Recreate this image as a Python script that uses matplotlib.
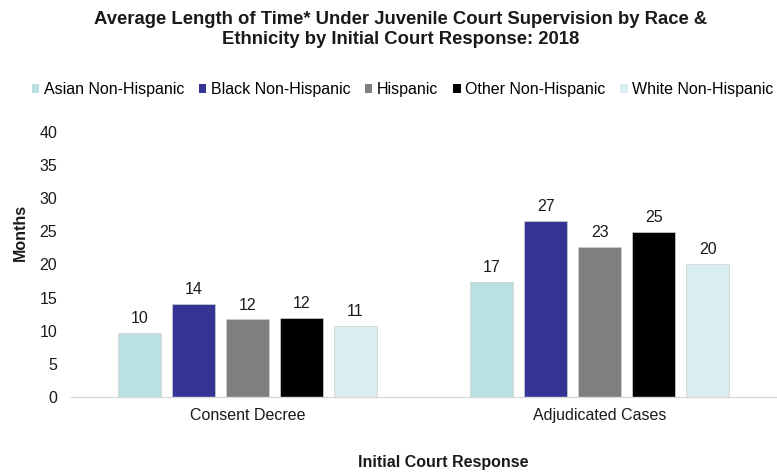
import matplotlib
matplotlib.use("Agg")
import matplotlib.pyplot as plt
from matplotlib.patches import Patch
import numpy as np

plt.rcParams['font.family'] = ['Liberation Sans', 'DejaVu Sans']

# Data: average months under supervision
categories = ["Consent Decree", "Adjudicated Cases"]
groups = ["Asian Non-Hispanic", "Black Non-Hispanic", "Hispanic",
          "Other Non-Hispanic", "White Non-Hispanic"]
asian = [9.7, 17.4]
black = [14.0, 26.6]
hispanic = [11.7, 22.7]
other = [12.0, 24.9]
white = [10.7, 20.1]
series = [asian, black, hispanic, other, white]
colors = ["#BAE0E3", "#343494", "#7F7F7F", "#000000", "#DAEDF0"]
y_ticks = [0, 5, 10, 15, 20, 25, 30, 35, 40]

W, H = 777, 472
fig = plt.figure(figsize=(W / 100, H / 100), dpi=100)
ax = fig.add_axes([71 / W, (H - 397) / H, (776 - 71) / W, (397 - 132) / H])

x = np.arange(len(categories))
bar_w = 0.122
pitch = 0.153
for i, (vals, col) in enumerate(zip(series, colors)):
    pos = x + (i - 2) * pitch
    bars = ax.bar(pos, vals, width=bar_w, color=col, edgecolor="#D0D0D0",
                  linewidth=0.5, zorder=2)
    for b, v in zip(bars, vals):
        ax.annotate(f"{v:.0f}", (b.get_x() + b.get_width() / 2, v),
                    xytext=(0, 5), textcoords="offset points",
                    ha="center", va="bottom", fontsize=11.5, color="#1a1a1a")

ax.set_xlim(-0.5, 1.5)
ax.set_ylim(0, 40)
ax.set_yticks(y_ticks)
ax.set_xticks(x)
ax.set_xticklabels(categories)
ax.tick_params(axis="y", length=0, pad=10, labelsize=11.5, labelcolor="#1a1a1a")
ax.tick_params(axis="x", length=0, pad=8, labelsize=11.5, labelcolor="#1a1a1a")
for s in ["top", "right", "left"]:
    ax.spines[s].set_visible(False)
ax.spines["bottom"].set_color("#D9D9D9")
ax.spines["bottom"].set_linewidth(1.0)

fig.text(401 / W, 1 - 29.5 / H,
         "Average Length of Time* Under Juvenile Court Supervision by Race &\n"
         "Ethnicity by Initial Court Response: 2018",
         ha="center", va="center", fontsize=13.3, fontweight="bold",
         linespacing=1.28, color="#1a1a1a")

fig.text(20 / W, 1 - 232 / H, "Months", rotation=90, ha="center", va="center",
         fontsize=11.5, fontweight="bold", color="#1a1a1a")
fig.text(443 / W, 1 - 462 / H, "Initial Court Response", ha="center",
         va="center", fontsize=11.5, fontweight="bold", color="#1a1a1a")

handles = [Patch(facecolor=c, edgecolor="none") for c in colors]
fig.legend(handles, groups, loc="center", bbox_to_anchor=(402.5 / W, 1 - 90 / H),
           ncol=5, frameon=False, fontsize=11.5, handlelength=0.47,
           handleheight=0.47, handletextpad=0.28, columnspacing=0.92,
           borderaxespad=0, borderpad=0)

fig.savefig("out.png", dpi=100)
